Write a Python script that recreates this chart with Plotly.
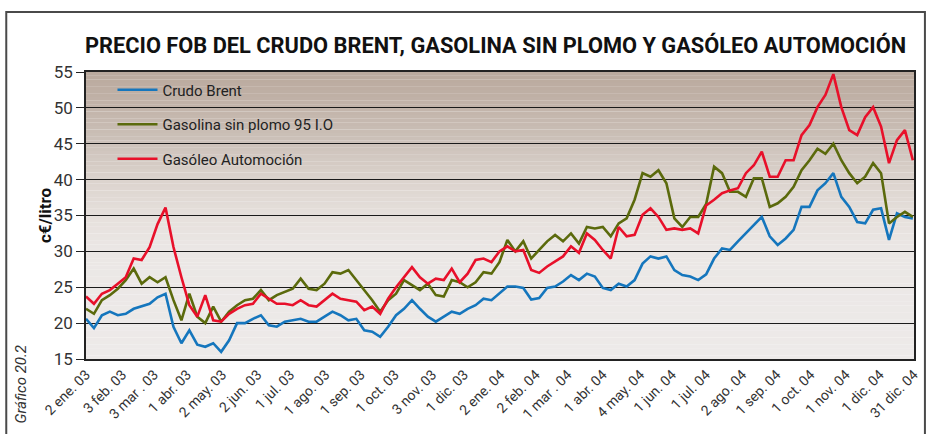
import pandas as pd
import plotly.graph_objects as go

# Weekly readings, c€/litro, from 2 Jan 2003 to 31 Dec 2004
dates = list(pd.date_range("2003-01-02", periods=105, freq="7D").strftime("%Y-%m-%d"))

crudo_brent = [
    20.6, 19.3, 21.1, 21.6, 21.1, 21.3, 22.0, 22.4, 22.7, 23.6,
    24.1, 19.5, 17.2, 19.0, 17.0, 16.7, 17.2, 16.0, 17.6, 20.0,
    20.0, 20.6, 21.1, 19.7, 19.5, 20.2, 20.4, 20.6, 20.2, 20.2,
    20.9, 21.6, 21.1, 20.4, 20.6, 19.0, 18.8, 18.1, 19.5, 21.1,
    22.0, 23.2, 22.0, 20.9, 20.2, 20.9, 21.6, 21.3, 22.0, 22.5,
    23.4, 23.2, 24.2, 25.1, 25.1, 24.9, 23.3, 23.5, 24.9, 25.1,
    25.8, 26.7, 26.0, 26.9, 26.5, 24.9, 24.6, 25.5, 25.1, 26.0,
    28.3, 29.3, 29.0, 29.3, 27.4, 26.7, 26.5, 26.0, 26.8, 29.0,
    30.4, 30.2, 31.4, 32.5, 33.7, 34.8, 32.1, 30.9, 31.8, 33.0,
    36.2, 36.2, 38.5, 39.5, 40.9, 37.6, 36.2, 34.1, 33.9, 35.8,
    36.0, 31.6, 35.3, 34.8, 34.6,
]

gasolina_95 = [
    22.0, 21.3, 23.2, 23.9, 24.8, 26.0, 27.6, 25.5, 26.4, 25.7,
    26.4, 23.2, 20.4, 24.1, 20.9, 20.0, 22.3, 20.2, 21.6, 22.5,
    23.2, 23.4, 24.6, 23.2, 23.9, 24.4, 24.8, 26.2, 24.8, 24.6,
    25.5, 27.1, 26.9, 27.4, 26.0, 24.6, 23.2, 21.6, 23.2, 24.1,
    26.0, 25.3, 24.6, 25.5, 23.9, 23.7, 26.0, 25.7, 25.0, 25.7,
    27.1, 26.9, 28.5, 31.6, 30.0, 31.4, 29.0, 30.2, 31.4, 32.3,
    31.4, 32.5, 31.1, 33.4, 33.2, 33.4, 32.1, 33.9, 34.6, 37.2,
    40.9, 40.4, 41.3, 39.5, 34.6, 33.4, 34.8, 34.8, 36.6, 41.8,
    40.9, 38.3, 38.3, 37.6, 40.2, 40.2, 36.2, 36.7, 37.6, 39.0,
    41.3, 42.7, 44.3, 43.6, 45.0, 42.7, 40.9, 39.5, 40.4, 42.3,
    40.9, 33.9, 34.8, 35.5, 34.8,
]

gasoleo_automocion = [
    23.7, 22.7, 24.1, 24.6, 25.5, 26.4, 29.0, 28.8, 30.6, 33.8,
    36.1, 30.6, 26.4, 22.5, 20.9, 23.9, 20.4, 20.2, 21.3, 22.0,
    22.5, 22.7, 24.1, 23.4, 22.7, 22.7, 22.5, 23.2, 22.5, 22.3,
    23.2, 24.1, 23.4, 23.2, 23.0, 21.8, 22.3, 21.3, 23.4, 25.0,
    26.4, 27.8, 26.4, 25.5, 26.2, 26.0, 27.6, 25.7, 26.9, 28.8,
    29.0, 28.5, 30.0, 30.7, 30.0, 30.2, 27.4, 27.0, 27.9, 28.6,
    29.3, 30.7, 29.8, 32.5, 31.6, 30.2, 29.0, 33.4, 32.1, 32.3,
    35.1, 36.0, 34.8, 33.0, 33.2, 33.0, 33.2, 32.5, 36.4, 37.2,
    38.1, 38.5, 38.8, 40.9, 42.0, 43.9, 40.4, 40.4, 42.7, 42.7,
    46.2, 47.6, 50.1, 51.8, 54.7, 50.1, 46.9, 46.2, 48.7, 50.1,
    47.4, 42.3, 45.5, 46.9, 42.7,
]

series_names = ["Crudo Brent", "Gasolina sin plomo 95 I.O", "Gasóleo Automoción"]
series_values = [crudo_brent, gasolina_95, gasoleo_automocion]
series_colors = ["#1576bd", "#5b6a0c", "#e8102a"]

tick_dates = [
    "2003-01-02", "2003-02-03", "2003-03-03", "2003-04-01", "2003-05-02",
    "2003-06-02", "2003-07-01", "2003-08-01", "2003-09-01", "2003-10-01",
    "2003-11-03", "2003-12-01", "2004-01-02", "2004-02-02", "2004-03-01",
    "2004-04-01", "2004-05-04", "2004-06-01", "2004-07-01", "2004-08-02",
    "2004-09-01", "2004-10-01", "2004-11-01", "2004-12-01", "2004-12-31",
]
tick_labels = [
    "2 ene. 03", "3 feb. 03", "3 mar . 03", "1 abr. 03", "2 may. 03",
    "2 jun. 03", "1 jul. 03", "1 ago. 03", "1 sep. 03", "1 oct. 03",
    "3 nov. 03", "1 dic. 03", "2 ene. 04", "2 feb. 04", "1 mar . 04",
    "1 abr. 04", "4 may. 04", "1 jun. 04", "1 jul. 04", "2 ago. 04",
    "1 sep. 04", "1 oct. 04", "1 nov. 04", "1 dic. 04", "31 dic. 04",
]

FONT = "Roboto, Liberation Sans, Arial, sans-serif"
Y_MIN, Y_MAX = 15, 55

fig = go.Figure()
for i, (name, vals, col) in enumerate(zip(series_names, series_values, series_colors)):
    fig.add_trace(go.Scatter(
        x=dates, y=vals, name=name, mode="lines",
        line=dict(color=col, width=2.6),
        legendgroup=f"g{i}",
    ))

# Vertical colour fade behind the plot: warm taupe at the top to pale grey below
stops = [(55, (186, 169, 157)), (50, (194, 180, 170)), (45, (205, 194, 186)),
         (40, (219, 211, 205)), (35, (230, 224, 220)), (30, (235, 231, 229)),
         (15, (237, 234, 233))]


def shade(v):
    for (v0, c0), (v1, c1) in zip(stops[:-1], stops[1:]):
        if v1 <= v <= v0:
            t = (v0 - v) / (v0 - v1)
            return "rgb(%d,%d,%d)" % tuple(round(a + (b - a) * t) for a, b in zip(c0, c1))
    return "rgb(%d,%d,%d)" % stops[-1][1]


n_strips = 80
step = (Y_MAX - Y_MIN) / n_strips
for k in range(n_strips):
    y1 = Y_MAX - k * step
    y0 = y1 - step - 0.02
    fig.add_shape(type="rect", xref="paper", yref="y", x0=0, x1=1, y0=max(y0, Y_MIN), y1=y1,
                  fillcolor=shade((y0 + y1) / 2), line_width=0, layer="below")

# Outer frame around the whole graphic
fig.add_shape(type="rect", xref="paper", yref="paper",
              x0=-0.0963, x1=1.0132, y0=-0.30, y1=1.209,
              line=dict(color="#4a4a4a", width=2), fillcolor="rgba(0,0,0,0)", layer="above")

fig.add_annotation(text="<b>PRECIO FOB DEL CRUDO BRENT, GASOLINA SIN PLOMO Y GASÓLEO AUTOMOCIÓN</b>",
                   xref="paper", yref="paper", x=0.494, y=1.095, xanchor="center", yanchor="middle",
                   showarrow=False, font=dict(family=FONT, size=21.8, color="#111"))

fig.add_annotation(text="<b>c€/litro</b>", xref="paper", yref="paper", x=-0.05, y=0.5,
                   textangle=-90, showarrow=False, xanchor="center", yanchor="middle",
                   font=dict(family=FONT, size=17, color="#111"))

fig.add_annotation(text="<i>Gráfico 20.2</i>", xref="paper", yref="paper", x=-0.078, y=-0.232,
                   textangle=-90, showarrow=False, xanchor="center", yanchor="bottom",
                   font=dict(family=FONT, size=15, color="#333"))

fig.update_layout(
    width=933, height=434,
    margin=dict(l=86, r=16, t=72, b=75),
    paper_bgcolor="white", plot_bgcolor="rgba(0,0,0,0)",
    font=dict(family=FONT, color="#333"),
    showlegend=True,
    legend=dict(x=0.032, y=0.995, xanchor="left", yanchor="top",
                bgcolor="rgba(0,0,0,0)", font=dict(family=FONT, size=15, color="#222"),
                tracegroupgap=12, itemwidth=40),
    xaxis=dict(range=["2003-01-02", "2004-12-31"], tickvals=tick_dates, ticktext=tick_labels,
               tickangle=-45, tickfont=dict(family=FONT, size=14, color="#333"),
               showgrid=False, showline=True, linecolor="#222", linewidth=2, mirror=True,
               ticks="", zeroline=False),
    yaxis=dict(range=[Y_MIN, Y_MAX], tickvals=[15, 20, 25, 30, 35, 40, 45, 50, 55],
               tickfont=dict(family=FONT, size=17, color="#333"),
               showgrid=True, gridcolor="#1a1a1a", gridwidth=1.3,
               showline=True, linecolor="#222", linewidth=1.5, mirror=True,
               ticks="outside", ticklen=8, tickcolor="#222", zeroline=False),
)

fig.write_html("out.html")
